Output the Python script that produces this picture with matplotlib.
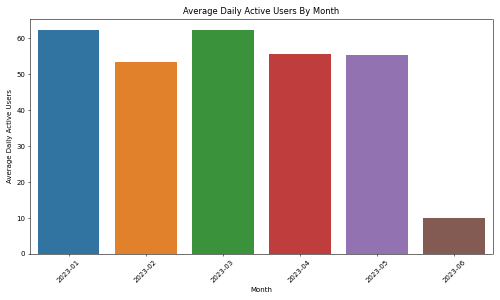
import matplotlib
matplotlib.use("Agg")
import matplotlib.pyplot as plt
import seaborn as sns

months = ["2023-01", "2023-02", "2023-03", "2023-04", "2023-05", "2023-06"]
avg_dau = [62.4, 53.4, 62.3, 55.7, 55.3, 10.0]

fig = plt.figure(figsize=(10, 6), dpi=50)
ax = sns.barplot(x=months, y=avg_dau, hue=months, palette="tab10", legend=False)
ax.set_title("Average Daily Active Users By Month")
ax.set_xlabel("Month")
ax.set_ylabel("Average Daily Active Users")
plt.xticks(rotation=45)
plt.tight_layout()
plt.savefig("out.png", dpi=50)
